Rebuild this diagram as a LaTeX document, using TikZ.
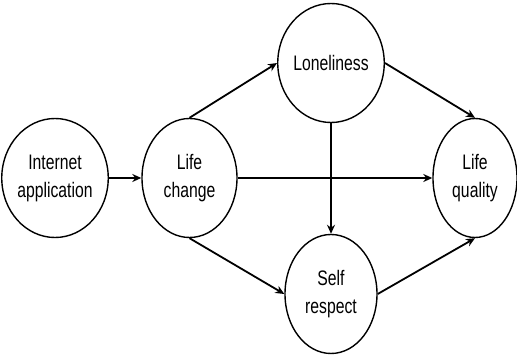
\documentclass[tikz,border=0pt]{standalone}
\usepackage{fontspec}
\setmainfont{Liberation Sans}[FakeStretch=0.75]
\usetikzlibrary{arrows.meta,shapes.geometric}
\begin{document}
\begin{tikzpicture}[x=1pt,y=-1pt,
  var/.style={draw,line width=1.4pt,ellipse,minimum width=#1,minimum height=119pt,inner sep=0pt,align=center,font=\fontsize{21}{28}\selectfont},
  var/.default=95pt,
  link/.style={line width=1.8pt,-{Stealth[length=9pt,width=8pt]}}]
\useasboundingbox (0,0) rectangle (517,355);
\node[var=96pt] (ia) at (55,178) {Internet\\application};
\node[var=95pt] (lc) at (189.5,178) {Life\\change};
\node[var=92pt] (lo) at (331,63) {Loneliness};
\node[var=92pt] (sr) at (331,294) {Self\\respect};
\node[var=84pt] (lq) at (475,178) {Life\\quality};
\draw[link] (ia) -- (lc);
\draw[link] (lc.north) -- (lo.west);
\draw[link] (lc.south) -- (sr.west);
\draw[link] (lc.east) -- (lq.west);
\draw[link] (lo.south) -- (sr.north);
\draw[link] (lo.east) -- (lq.north);
\draw[link] (sr.east) -- (lq.south);
\end{tikzpicture}
\end{document}
